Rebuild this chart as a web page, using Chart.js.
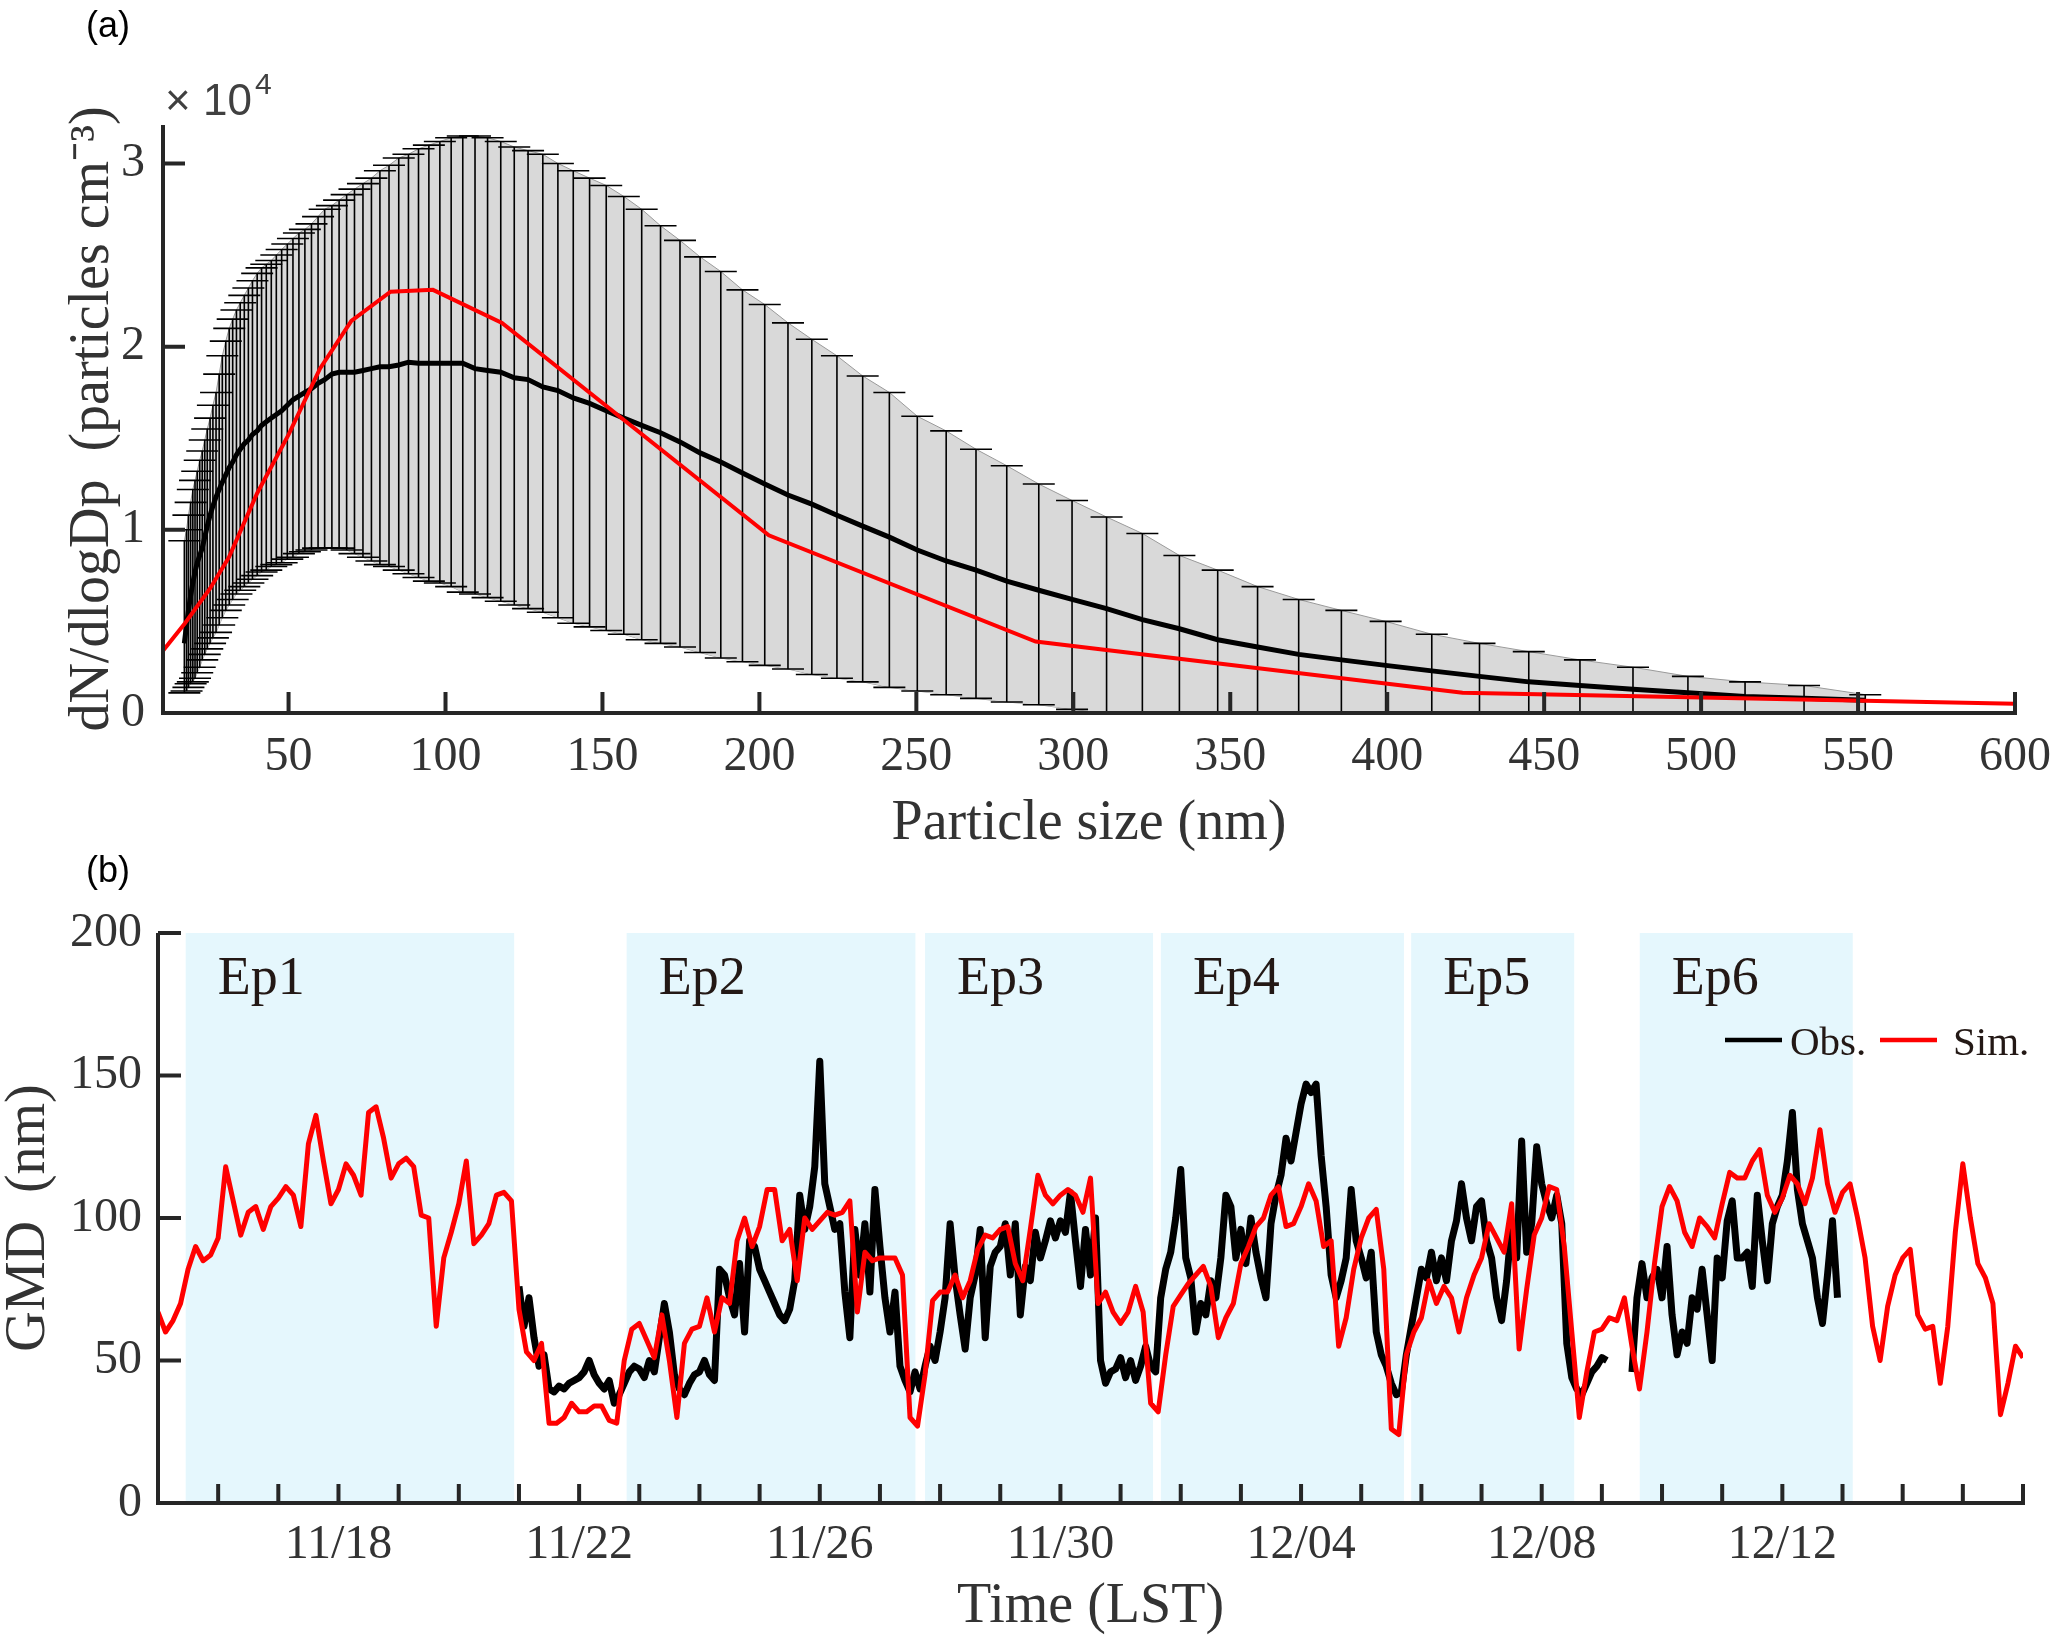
<!DOCTYPE html>
<html>
<head>
<meta charset="utf-8">
<script src="https://cdn.jsdelivr.net/npm/chart.js@4.4.1/dist/chart.umd.min.js"></script>
<style>
  html, body { margin:0; padding:0; background:#fff; }
  body { width:2067px; height:1641px; position:relative; overflow:hidden; }
  #chartPSD { position:absolute; left:0; top:0; }
  #chartGMD { position:absolute; left:0; top:840px; }
</style>
</head>
<body>
<canvas id="chartPSD" width="2067" height="860"></canvas>
<canvas id="chartGMD" width="2067" height="801"></canvas>
<script>
// ---- panel (a): size distribution, values in units of 10^4 particles cm-3
const sizeBins = [
  16.8, 17.5, 18.1, 18.8, 19.5, 20.2, 20.9, 21.7, 22.5, 23.3,
  24.1, 25.0, 25.9, 26.9, 27.9, 28.9, 30.0, 31.1, 32.2, 33.4,
  34.6, 35.9, 37.2, 38.5, 40.0, 41.4, 42.9, 44.5, 46.1, 47.8,
  49.6, 51.4, 53.3, 55.2, 57.3, 59.4, 61.5, 63.8, 66.1, 68.5,
  71.0, 73.7, 76.4, 79.1, 82.0, 85.1, 88.2, 91.4, 94.7, 98.2,
  101.8, 105.5, 109.4, 113.4, 117.6, 121.9, 126.3, 131.0, 135.8, 140.7,
  145.9, 151.2, 156.8, 162.5, 168.5, 174.7, 181.1, 187.7, 194.6, 201.7,
  209.1, 216.7, 224.7, 232.9, 241.4, 250.3, 259.5, 269.0, 278.8, 289.0,
  299.6, 310.6, 322.0, 333.8, 346.0, 358.7, 371.8, 385.4, 399.5, 414.2,
  429.4, 445.1, 461.4, 478.3, 495.8, 514.0, 532.8, 552.3
];
const obsMean = [
  0.38, 0.48, 0.56, 0.64, 0.71, 0.77, 0.82, 0.86, 0.90, 0.96,
  1.02, 1.08, 1.13, 1.18, 1.22, 1.26, 1.30, 1.34, 1.37, 1.41,
  1.44, 1.47, 1.49, 1.52, 1.54, 1.57, 1.59, 1.61, 1.63, 1.65,
  1.68, 1.71, 1.73, 1.75, 1.77, 1.80, 1.82, 1.85, 1.86, 1.86,
  1.86, 1.87, 1.88, 1.89, 1.89, 1.90, 1.915, 1.91, 1.91, 1.91,
  1.91, 1.91, 1.88, 1.87, 1.86, 1.83, 1.82, 1.78, 1.76, 1.72,
  1.69, 1.65, 1.61, 1.57, 1.53, 1.48, 1.42, 1.37, 1.31, 1.25,
  1.19, 1.14, 1.08, 1.02, 0.96, 0.89, 0.83, 0.78, 0.72, 0.67,
  0.62, 0.57, 0.51, 0.46, 0.40, 0.36, 0.32, 0.29, 0.26, 0.23,
  0.20, 0.17, 0.15, 0.13, 0.11, 0.09, 0.08, 0.07
];
const obsUpper = [
  0.94, 1.00, 1.08, 1.15, 1.22, 1.27, 1.32, 1.38, 1.43, 1.49,
  1.55, 1.61, 1.68, 1.75, 1.85, 1.95, 2.03, 2.10, 2.15, 2.20,
  2.24, 2.28, 2.32, 2.36, 2.40, 2.43, 2.45, 2.47, 2.50, 2.53,
  2.56, 2.59, 2.62, 2.64, 2.67, 2.71, 2.75, 2.77, 2.80, 2.83,
  2.86, 2.89, 2.92, 2.96, 2.99, 3.03, 3.05, 3.08, 3.10, 3.12,
  3.14, 3.15, 3.15, 3.14, 3.12, 3.09, 3.07, 3.05, 3.00, 2.96,
  2.92, 2.88, 2.82, 2.75, 2.66, 2.58, 2.49, 2.41, 2.31, 2.23,
  2.13, 2.04, 1.95, 1.84, 1.75, 1.62, 1.54, 1.44, 1.35, 1.25,
  1.16, 1.07, 0.98, 0.86, 0.78, 0.69, 0.62, 0.56, 0.50, 0.43,
  0.38, 0.335, 0.29, 0.25, 0.20, 0.17, 0.15, 0.10
];
const obsLower = [
  0.11, 0.12, 0.14, 0.16, 0.17, 0.19, 0.22, 0.25, 0.29, 0.32,
  0.35, 0.38, 0.41, 0.44, 0.48, 0.52, 0.56, 0.59, 0.62, 0.65,
  0.67, 0.69, 0.71, 0.73, 0.75, 0.77, 0.78, 0.80, 0.81, 0.82,
  0.84, 0.85, 0.87, 0.88, 0.89, 0.90, 0.90, 0.90, 0.90, 0.89,
  0.87, 0.85, 0.83, 0.81, 0.80, 0.78, 0.76, 0.74, 0.72, 0.71,
  0.69, 0.66, 0.65, 0.63, 0.61, 0.59, 0.57, 0.55, 0.52, 0.49,
  0.47, 0.45, 0.43, 0.40, 0.38, 0.36, 0.33, 0.30, 0.28, 0.26,
  0.24, 0.21, 0.19, 0.17, 0.14, 0.12, 0.10, 0.08, 0.06, 0.045,
  0.02, 0.00, -0.02, -0.03, -0.04, -0.03, -0.03, -0.03, -0.02, -0.02,
  -0.02, -0.01, -0.01, -0.01, -0.01, -0.01, -0.01, -0.02
];
const simSize = [10, 17, 25, 31, 40, 50, 60, 70, 82.5, 96, 118, 203, 288, 424, 600];
const simPSD  = [0.34, 0.49, 0.68, 0.85, 1.20, 1.52, 1.88, 2.14, 2.30, 2.31, 2.13, 0.97, 0.39, 0.11, 0.05];
const sizeTicks = [50, 100, 150, 200, 250, 300, 350, 400, 450, 500, 550, 600];
const psdTicks = [0, 1, 2, 3];

// ---- panel (b): GMD time series, x = days since 11/15 00:00 LST
const simStartDay = 0;
const simStepHours = 3;
const simGMD = [
  67, 60, 64, 70, 82, 90, 85, 87,
  93, 118, 106, 94, 102, 104, 96, 104,
  107, 111, 108, 97, 126, 136, 120, 105,
  110, 119, 115, 108, 137, 139, 128, 114,
  119, 121, 118, 101, 100, 62, 86, 95,
  105, 120, 91, 94, 98, 108, 109, 106,
  68, 53, 50, 56, 28, 28, 30, 35,
  32, 32, 34, 34, 29, 28, 50, 61,
  63, 57, 51, 66, 50, 30, 56, 61,
  62, 72, 60, 72, 70, 92, 100, 90,
  97, 110, 110, 92, 96, 78, 100, 96,
  99, 102, 101, 102, 106, 67, 88, 85,
  86, 86, 86, 80, 30, 27, 45, 71,
  74, 74, 80, 72, 78, 89, 94, 93,
  96, 97, 84, 78, 96, 115, 108, 105,
  108, 110, 108, 102, 114, 70, 74, 67,
  63, 67, 76, 67, 35, 32, 52, 69,
  73, 77, 80, 83, 76, 58, 65, 70,
  84, 90, 97, 100, 108, 111, 97, 98,
  104, 112, 106, 90, 92, 55, 65, 82,
  93, 100, 103, 82, 26, 24, 52, 60,
  65, 78, 70, 76, 72, 60, 72, 80,
  86, 98, 93, 88, 105, 54, 75, 94,
  100, 111, 110, 90, 60, 30, 46, 60,
  61, 65, 64, 72, 55, 40, 60, 84,
  104, 111, 106, 95, 90, 100, 97, 93,
  105, 116, 114, 114, 120, 124, 108, 102,
  107, 115, 112, 105, 114, 131, 112, 102,
  109, 112, 100, 86, 62, 50, 69, 80,
  86, 89, 66, 61, 62, 42, 62, 95,
  119, 100, 84, 79, 70, 31, 42, 55,
  51
];
const obsStartDay = 6;
const obsStepHours = 2;
const obsGMD = [
  76, 62, 72, 58, 48, 52, 40, 39, 41, 40, 42, 43,
  44, 46, 50, 45, 42, 40, 43, 35, 38, 42, 46, 48,
  47, 44, 50, 46, 58, 70, 60, 45, 40, 38, 42, 45,
  46, 50, 45, 43, 82, 80, 72, 66, 84, 60, 92, 90,
  82, 78, 74, 70, 66, 64, 68, 78, 108, 96, 104, 118,
  155, 112, 104, 96, 98, 74, 58, 96, 80, 98, 74, 110,
  90, 72, 60, 74, 48, 43, 39, 46, 40, 48, 55, 50,
  60, 72, 98, 79, 66, 54, 72, 80, 96, 58, 83, 88,
  90, 98, 80, 98, 66, 83, 78, 95, 86, 92, 99, 93,
  99, 95, 109, 92, 76, 96, 80, 100, 50, 42, 46, 47,
  51, 44, 50, 43, 48, 55, 48, 46, 72, 82, 88, 100,
  117, 86, 79, 60, 70, 66, 78, 72, 86, 108, 104, 86,
  96, 84, 100, 88, 79, 72, 98, 108, 115, 128, 120, 130,
  140, 147, 144, 147, 122, 104, 80, 72, 78, 86, 110, 92,
  86, 79, 88, 60, 52, 48, 42, 38, 39, 52, 62, 72,
  82, 79, 88, 78, 86, 78, 92, 99, 112, 100, 92, 104,
  106, 92, 86, 72, 64, 78, 98, 86, 127, 88, 98, 125,
  112, 105, 100, 108, 98, 56, 44, 40, 38, 42, 46, 48,
  51, 50, null, null, null, null, 46, 72, 84, 72, 79, 82,
  72, 90, 66, 52, 60, 56, 72, 68, 82, 66, 50, 86,
  79, 99, 106, 86, 86, 88, 76, 108, 92, 78, 98, 104,
  108, 120, 137, 110, 98, 92, 86, 72, 63, 80, 99, 72
];
const epNames = ['Ep1', 'Ep2', 'Ep3', 'Ep4', 'Ep5', 'Ep6'];
const epStart = [0.46, 7.79, 12.75, 16.67, 20.83, 24.63];
const epEnd   = [5.92, 12.59, 16.54, 20.71, 23.54, 28.17];
const dateLabels = ['11/18', '11/22', '11/26', '11/30', '12/04', '12/08', '12/12'];
const dateLabelDays = [3, 7, 11, 15, 19, 23, 27];
const gmdTicks = [0, 50, 100, 150, 200];

const axisColor = '#262626';
const textColor = '#333333';
const serif = "'Liberation Serif', 'Times New Roman', serif";
const sans = "'Liberation Sans', Arial, sans-serif";

// MATLAB style L-shaped axes with inward ticks
function drawAxes(chart, xVals, yVals, xLen, yLen) {
  const {ctx, chartArea: a, scales: {x, y}} = chart;
  ctx.save();
  ctx.strokeStyle = axisColor;
  ctx.lineWidth = 4;
  ctx.beginPath();
  ctx.moveTo(a.left, a.top);
  ctx.lineTo(a.left, a.bottom + 2);
  ctx.moveTo(a.left - 2, a.bottom);
  ctx.lineTo(a.right + 2, a.bottom);
  yVals.forEach(v => {
    const py = y.getPixelForValue(v);
    ctx.moveTo(a.left, py);
    ctx.lineTo(a.left + yLen, py);
  });
  xVals.forEach(v => {
    const px = x.getPixelForValue(v);
    ctx.moveTo(px, a.bottom);
    ctx.lineTo(px, a.bottom - xLen);
  });
  ctx.stroke();
  ctx.restore();
}

const psdExtras = {
  id: 'psdExtras',
  afterDatasetDraw(chart, args) {
    if (args.index !== 2) return;
    const {ctx, chartArea: a, scales: {x, y}} = chart;
    ctx.save();
    ctx.beginPath();
    ctx.rect(a.left, a.top - 10, a.right - a.left, a.bottom - a.top + 10);
    ctx.clip();
    ctx.strokeStyle = '#000';
    ctx.lineWidth = 1.6;
    sizeBins.forEach((s, i) => {
      const px = x.getPixelForValue(s);
      const pu = y.getPixelForValue(obsUpper[i]);
      const pl = y.getPixelForValue(obsLower[i]);
      ctx.beginPath();
      ctx.moveTo(px, pu); ctx.lineTo(px, pl);
      ctx.moveTo(px - 16, pu); ctx.lineTo(px + 16, pu);
      ctx.moveTo(px - 16, pl); ctx.lineTo(px + 16, pl);
      ctx.stroke();
    });
    ctx.restore();
  },
  afterDraw(chart) {
    drawAxes(chart, sizeTicks, psdTicks, 21, 22);
    const ctx = chart.ctx;
    ctx.save();
    ctx.fillStyle = '#000';
    ctx.font = '36px ' + sans;
    ctx.textBaseline = 'alphabetic';
    ctx.fillText('(a)', 86, 37);
    ctx.fillStyle = '#404040';
    ctx.font = '44px ' + sans;
    ctx.fillText('\u00d7 10', 165, 115);
    ctx.font = '30px ' + sans;
    ctx.fillText('4', 255, 94);
    ctx.restore();
  }
};

const gmdExtras = {
  id: 'gmdExtras',
  beforeDatasetsDraw(chart) {
    const {ctx, chartArea: a, scales: {x}} = chart;
    ctx.save();
    ctx.fillStyle = '#e5f7fd';
    epStart.forEach((s, i) => {
      const x0 = x.getPixelForValue(s);
      const x1 = x.getPixelForValue(epEnd[i]);
      ctx.fillRect(x0, a.top, x1 - x0, a.bottom - a.top);
    });
    ctx.fillStyle = '#231815';
    ctx.font = '54px ' + serif;
    epStart.forEach((s, i) => {
      ctx.fillText(epNames[i], x.getPixelForValue(s) + 32, a.top + 61);
    });
    ctx.restore();
  },
  afterDraw(chart) {
    const days = [];
    for (let d = 1; d <= 31; d++) days.push(d);
    drawAxes(chart, days, gmdTicks, 19, 23);
    const {ctx, chartArea: a} = chart;
    ctx.save();
    // legend
    ctx.lineWidth = 4.5;
    ctx.strokeStyle = '#000';
    ctx.beginPath();
    ctx.moveTo(a.right - 298, a.top + 107);
    ctx.lineTo(a.right - 241, a.top + 107);
    ctx.stroke();
    ctx.strokeStyle = '#ff0000';
    ctx.beginPath();
    ctx.moveTo(a.right - 143, a.top + 107);
    ctx.lineTo(a.right - 86, a.top + 107);
    ctx.stroke();
    ctx.fillStyle = '#231815';
    ctx.font = '41px ' + serif;
    ctx.fillText('Obs.', a.right - 233, a.top + 122);
    ctx.fillText('Sim.', a.right - 70, a.top + 122);
    ctx.fillStyle = '#000';
    ctx.font = '36px ' + sans;
    ctx.fillText('(b)', 86, 42);
    ctx.restore();
  }
};

const psdData = {
  datasets: [
    {
      label: 'Sim.',
      data: simSize.map((s, i) => ({x: s, y: simPSD[i]})),
      borderColor: '#ff0000',
      borderWidth: 4,
      pointRadius: 0,
      tension: 0,
      fill: false
    },
    {
      label: 'Obs.',
      data: sizeBins.map((s, i) => ({x: s, y: obsMean[i]})),
      borderColor: '#000000',
      borderWidth: 5,
      pointRadius: 0,
      tension: 0,
      fill: false
    },
    {
      label: 'Obs. upper',
      data: sizeBins.map((s, i) => ({x: s, y: obsUpper[i]})),
      borderColor: '#9a9a9a',
      borderWidth: 1,
      backgroundColor: '#d9d9d9',
      pointRadius: 0,
      tension: 0,
      fill: '+1'
    },
    {
      label: 'Obs. lower',
      data: sizeBins.map((s, i) => ({x: s, y: obsLower[i]})),
      borderColor: '#9a9a9a',
      borderWidth: 1,
      pointRadius: 0,
      tension: 0,
      fill: false
    }
  ]
};

new Chart(document.getElementById('chartPSD'), {
  type: 'line',
  data: psdData,
  options: {
    responsive: false,
    animation: false,
    devicePixelRatio: 1,
    layout: {padding: {top: 125, right: 36, bottom: 0, left: 0}},
    plugins: {legend: {display: false}, tooltip: {enabled: false}},
    scales: {
      x: {
        type: 'linear',
        min: 10,
        max: 600,
        afterBuildTicks: s => { s.ticks = sizeTicks.map(v => ({value: v})); },
        afterFit: s => { s.height = 147; },
        grid: {display: false, drawTicks: false},
        border: {display: false},
        ticks: {font: {family: serif, size: 48}, color: textColor, padding: 16, maxRotation: 0, autoSkip: false},
        title: {
          display: true,
          text: 'Particle size (nm)',
          font: {family: serif, size: 56, lineHeight: 1.2},
          color: textColor,
          padding: {top: 0, bottom: 2}
        }
      },
      y: {
        min: 0,
        max: 3.21,
        afterBuildTicks: s => { s.ticks = psdTicks.map(v => ({value: v})); },
        afterFit: s => { s.width = 163; },
        grid: {display: false, drawTicks: false},
        border: {display: false},
        ticks: {font: {family: serif, size: 48}, color: textColor, padding: 18},
        title: {
          display: true,
          text: 'dN/dlogDp  (particles cm\u207B\u00B3)',
          font: {family: serif, size: 56, lineHeight: 1.2},
          color: textColor,
          padding: {top: 60, bottom: 0}
        }
      }
    }
  },
  plugins: [psdExtras]
});

const gmdData = {
  datasets: [
    {
      label: 'Sim.',
      data: simGMD.map((v, i) => ({x: simStartDay + i * simStepHours / 24, y: v})),
      borderColor: '#ff0000',
      borderWidth: 5,
      borderJoinStyle: 'round',
      pointRadius: 0,
      tension: 0,
      fill: false
    },
    {
      label: 'Obs.',
      data: obsGMD.map((v, i) => ({x: obsStartDay + i * obsStepHours / 24, y: v})),
      borderColor: '#000000',
      borderWidth: 7,
      borderJoinStyle: 'round',
      pointRadius: 0,
      tension: 0,
      spanGaps: false,
      fill: false
    }
  ]
};

new Chart(document.getElementById('chartGMD'), {
  type: 'line',
  data: gmdData,
  options: {
    responsive: false,
    animation: false,
    devicePixelRatio: 1,
    layout: {padding: {top: 93, right: 44, bottom: 0, left: 0}},
    plugins: {legend: {display: false}, tooltip: {enabled: false}},
    scales: {
      x: {
        type: 'linear',
        min: 0,
        max: 31,
        afterBuildTicks: s => {
          const t = [];
          for (let d = 0; d <= 31; d++) t.push({value: d});
          s.ticks = t;
        },
        afterFit: s => { s.height = 138; },
        grid: {display: false, drawTicks: false},
        border: {display: false},
        ticks: {
          font: {family: serif, size: 48},
          color: textColor,
          padding: 14,
          maxRotation: 0,
          autoSkip: false,
          callback: v => {
            const k = dateLabelDays.indexOf(v);
            return k >= 0 ? dateLabels[k] : '';
          }
        },
        title: {
          display: true,
          text: 'Time (LST)',
          font: {family: serif, size: 56, lineHeight: 1.2},
          color: textColor,
          padding: {top: 0, bottom: 0}
        }
      },
      y: {
        min: 0,
        max: 200,
        afterBuildTicks: s => { s.ticks = gmdTicks.map(v => ({value: v})); },
        afterFit: s => { s.width = 158; },
        grid: {display: false, drawTicks: false},
        border: {display: false},
        ticks: {font: {family: serif, size: 48}, color: textColor, padding: 16},
        title: {
          display: true,
          text: 'GMD  (nm)',
          font: {family: serif, size: 56, lineHeight: 1},
          color: textColor,
          padding: {top: 1, bottom: 0}
        }
      }
    }
  },
  plugins: [gmdExtras]
});
</script>
</body>
</html>
